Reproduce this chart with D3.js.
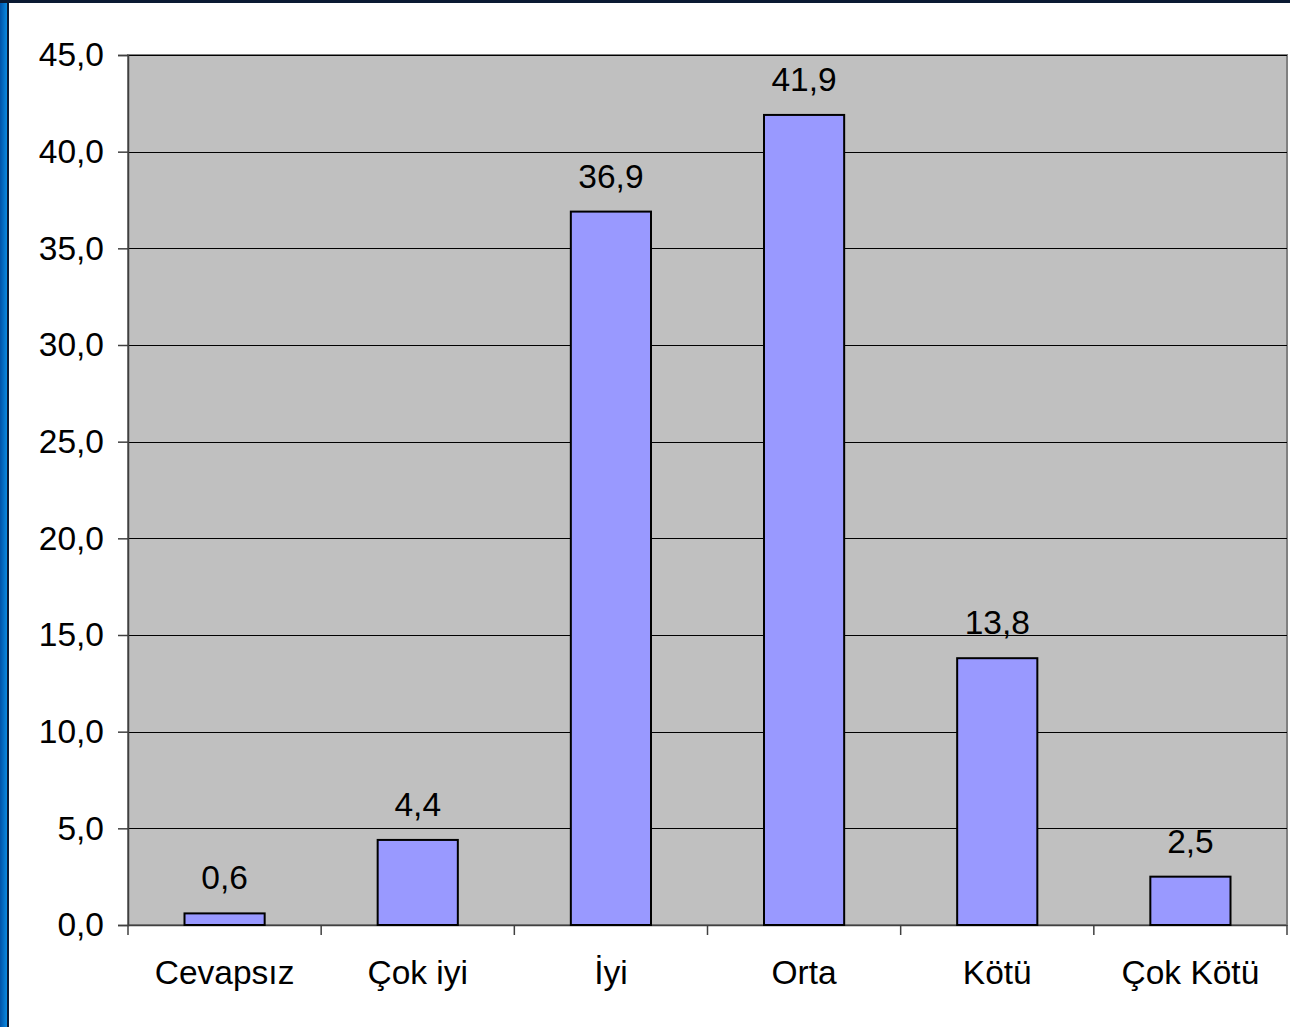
<!DOCTYPE html>
<html>
<head>
<meta charset="utf-8">
<script src="https://cdn.jsdelivr.net/npm/d3@7"></script>
<style>
  body { margin: 0; background: #fff; }
  svg { display: block; }
  text { font-family: "Liberation Sans", Arial, sans-serif; fill: #000; }
</style>
</head>
<body>
<div id="chart"></div>
<script>
const categories = ['Cevapsız', 'Çok iyi', 'İyi', 'Orta', 'Kötü', 'Çok Kötü'];
const values = [0.6, 4.4, 36.9, 41.9, 13.8, 2.5];
const yTicks = [0, 5, 10, 15, 20, 25, 30, 35, 40, 45];

const width = 1290;
const height = 1027;
const plot = {left: 128, top: 55, right: 1287, bottom: 925};
const fontSize = '33.5px';

const fmt = v => v.toFixed(1).replace('.', ',');

const svg = d3.select('#chart')
  .append('svg')
  .attr('width', width)
  .attr('height', height);

// blue frame on the left, dark line on top
const defs = svg.append('defs');
const grad = defs.append('linearGradient').attr('id', 'side').attr('x1', 0).attr('x2', 1);
grad.append('stop').attr('offset', 0).attr('stop-color', '#0052a8');
grad.append('stop').attr('offset', 1).attr('stop-color', '#0a8ae0');
svg.append('rect').attr('x', 0).attr('y', 0).attr('width', 7).attr('height', height).attr('fill', 'url(#side)');
svg.append('rect').attr('x', 7).attr('y', 0).attr('width', 2).attr('height', height).attr('fill', '#0a1a33');
svg.append('rect').attr('x', 0).attr('y', 0).attr('width', width).attr('height', 3).attr('fill', '#0a1a33');

const x = d3.scaleBand()
  .domain(categories)
  .range([plot.left, plot.right])
  .paddingInner(0.585)
  .paddingOuter(0.2925);

const y = d3.scaleLinear()
  .domain([0, 45])
  .range([plot.bottom, plot.top]);

// plot background
svg.append('rect')
  .attr('x', plot.left)
  .attr('y', plot.top)
  .attr('width', plot.right - plot.left)
  .attr('height', plot.bottom - plot.top)
  .attr('fill', '#c0c0c0')
  .attr('stroke', '#808080')
  .attr('stroke-width', 2);

// gridlines
svg.append('g').selectAll('line')
  .data(yTicks.filter(d => d > 0))
  .enter().append('line')
  .attr('x1', plot.left)
  .attr('x2', plot.right)
  .attr('y1', d => Math.round(y(d)) + 0.5)
  .attr('y2', d => Math.round(y(d)) + 0.5)
  .attr('stroke', '#000')
  .attr('stroke-width', 1);

// y axis
const yAxis = svg.append('g')
  .attr('transform', `translate(${plot.left},0)`)
  .call(d3.axisLeft(y).tickValues(yTicks).tickFormat(fmt).tickSize(10).tickPadding(14));
yAxis.select('.domain').attr('stroke', '#404040').attr('stroke-width', 1.5);
yAxis.selectAll('.tick line').attr('stroke', '#404040').attr('stroke-width', 1.5);
yAxis.selectAll('text')
  .style('font-family', '"Liberation Sans", Arial, sans-serif')
  .style('font-size', fontSize)
  .attr('fill', '#000');

// x axis with ticks at band edges
const xAxisG = svg.append('g').attr('transform', `translate(0,${plot.bottom})`);
xAxisG.append('line')
  .attr('x1', plot.left).attr('x2', plot.right)
  .attr('y1', 0.5).attr('y2', 0.5)
  .attr('stroke', '#404040').attr('stroke-width', 1.5);
const edges = d3.range(categories.length + 1).map(i => plot.left + i * (plot.right - plot.left) / categories.length);
xAxisG.selectAll('.edge')
  .data(edges)
  .enter().append('line')
  .attr('class', 'edge')
  .attr('x1', d => d).attr('x2', d => d)
  .attr('y1', 0).attr('y2', 10)
  .attr('stroke', '#404040').attr('stroke-width', 1.5);
xAxisG.selectAll('.cat')
  .data(categories)
  .enter().append('text')
  .attr('class', 'cat')
  .attr('x', d => x(d) + x.bandwidth() / 2)
  .attr('y', 59)
  .attr('text-anchor', 'middle')
  .style('font-size', fontSize)
  .text(d => d);

// bars
svg.append('g').selectAll('rect')
  .data(values)
  .enter().append('rect')
  .attr('x', (d, i) => x(categories[i]))
  .attr('y', d => y(d))
  .attr('width', x.bandwidth())
  .attr('height', d => y(0) - y(d))
  .attr('fill', '#9999ff')
  .attr('stroke', '#000')
  .attr('stroke-width', 2);

// value labels
svg.append('g').selectAll('text')
  .data(values)
  .enter().append('text')
  .attr('x', (d, i) => x(categories[i]) + x.bandwidth() / 2)
  .attr('y', d => y(d) - 24)
  .attr('text-anchor', 'middle')
  .style('font-size', fontSize)
  .text(fmt);
</script>
</body>
</html>
